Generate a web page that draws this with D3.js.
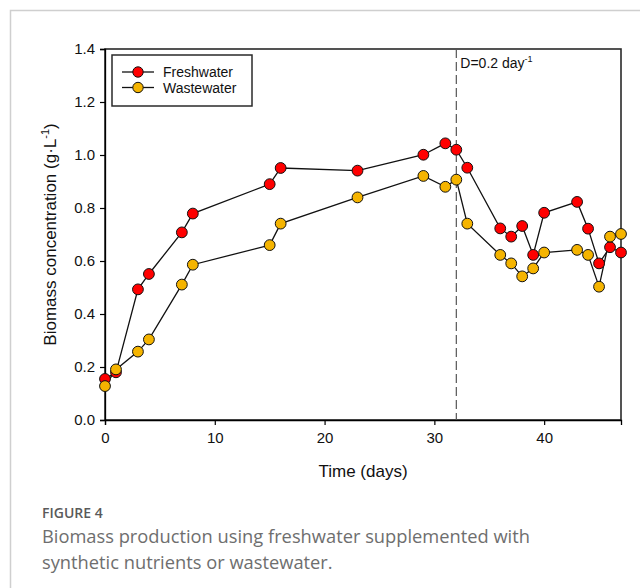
<!DOCTYPE html>
<html>
<head>
<meta charset="utf-8">
<script src="https://cdn.jsdelivr.net/npm/d3@7/dist/d3.min.js"></script>
<style>
  html, body { margin: 0; padding: 0; background: #fff; }
  svg { display: block; }
</style>
</head>
<body>
<svg id="chart" width="640" height="588"></svg>
<script>
// ---- data ----
const days = [0, 1, 3, 4, 7, 8, 15, 16, 23, 29, 31, 32, 33, 36, 37, 38, 39, 40, 43, 44, 45, 46, 47];
const freshwater = [0.155, 0.18, 0.493, 0.551, 0.708, 0.779, 0.89, 0.951, 0.941, 1.001, 1.044, 1.02, 0.952, 0.723, 0.692, 0.732, 0.623, 0.782, 0.823, 0.722, 0.591, 0.652, 0.632];
const wastewater = [0.128, 0.191, 0.258, 0.304, 0.511, 0.586, 0.66, 0.741, 0.84, 0.921, 0.88, 0.907, 0.741, 0.623, 0.591, 0.542, 0.572, 0.632, 0.642, 0.623, 0.503, 0.692, 0.702];
const xTicks = [0, 10, 20, 30, 40];
const yTicks = [0.0, 0.2, 0.4, 0.6, 0.8, 1.0, 1.2, 1.4];
const seriesNames = ["Freshwater", "Wastewater"];
const seriesColors = ["#ff0000", "#f5b400"];
const dilutionDay = 32;

(function () {
const svg = d3.select("#chart");
const pL = 105, pR = 621, pT = 49, pB = 420;

const x = d3.scaleLinear().domain([0, 47]).range([pL, pR]);
const y = d3.scaleLinear().domain([0, 1.4]).range([pB, pT]);

// outer frame of the figure
svg.append("path")
  .attr("d", `M10.5,588 L10.5,10.5 L640,10.5`)
  .attr("fill", "none").attr("stroke", "#cfcfcf").attr("stroke-width", 1.5);

// plot box
svg.append("rect")
  .attr("x", pL).attr("y", pT)
  .attr("width", pR - pL).attr("height", pB - pT)
  .attr("fill", "none").attr("stroke", "#2a2a2a").attr("stroke-width", 1.6);

// axes
const xAxis = d3.axisBottom(x).tickValues(xTicks).tickSize(5).tickPadding(4).tickFormat(d3.format("d"));
const yAxis = d3.axisLeft(y).tickValues(yTicks).tickSize(5).tickPadding(5).tickFormat(d3.format(".1f"));

const gx = svg.append("g").attr("transform", `translate(0,${pB})`).call(xAxis);
const gy = svg.append("g").attr("transform", `translate(${pL},0)`).call(yAxis);
[gx, gy].forEach(g => {
  g.select(".domain").attr("stroke", "#000").attr("stroke-width", 1.3);
  g.selectAll(".tick line").attr("stroke", "#000").attr("stroke-width", 1.2);
  g.selectAll(".tick text").attr("font-family", "Liberation Sans, Arial, sans-serif")
    .attr("font-size", 15).attr("fill", "#111");
});
gx.selectAll(".tick text").attr("dy", "0.95em");

// axis titles
svg.append("text")
  .attr("x", (pL + pR) / 2).attr("y", 477)
  .attr("text-anchor", "middle")
  .attr("font-family", "Liberation Sans, Arial, sans-serif").attr("font-size", 17).attr("fill", "#111")
  .text("Time (days)");

const yt = svg.append("text")
  .attr("transform", `translate(56,${(pT + pB) / 2}) rotate(-90)`)
  .attr("text-anchor", "middle")
  .attr("font-family", "Liberation Sans, Arial, sans-serif").attr("font-size", 17).attr("fill", "#111");
yt.append("tspan").text("Biomass concentration (g·L");
yt.append("tspan").attr("font-size", 11).attr("dy", -7).text("-1");
yt.append("tspan").attr("dy", 7).text(")");

// dashed line for dilution
svg.append("line")
  .attr("x1", x(dilutionDay)).attr("x2", x(dilutionDay))
  .attr("y1", pT).attr("y2", pB)
  .attr("stroke", "#555").attr("stroke-width", 1.2)
  .attr("stroke-dasharray", "9,4");

const ann = svg.append("text")
  .attr("x", x(dilutionDay) + 4).attr("y", 68)
  .attr("font-family", "Liberation Sans, Arial, sans-serif").attr("font-size", 14).attr("fill", "#111");
ann.append("tspan").text("D=0.2 day");
ann.append("tspan").attr("font-size", 9).attr("dy", -6).text("-1");

// series
const series = [freshwater, wastewater];
const line = d3.line().x((d, i) => x(days[i])).y(d => y(d));

series.forEach((vals) => {
  svg.append("path")
    .datum(vals)
    .attr("d", line)
    .attr("fill", "none").attr("stroke", "#111").attr("stroke-width", 1.3);
});
series.forEach((vals, s) => {
  svg.append("g").selectAll("circle")
    .data(vals)
    .join("circle")
    .attr("cx", (d, i) => x(days[i]))
    .attr("cy", d => y(d))
    .attr("r", 5.4)
    .attr("fill", seriesColors[s])
    .attr("stroke", "#111").attr("stroke-width", 1);
});

// legend
svg.append("rect")
  .attr("x", 112).attr("y", 55).attr("width", 140).attr("height", 51)
  .attr("fill", "#fff").attr("stroke", "#2a2a2a").attr("stroke-width", 1.5);
seriesNames.forEach((name, i) => {
  const ly = 72 + i * 15.5;
  svg.append("line").attr("x1", 122).attr("x2", 154).attr("y1", ly).attr("y2", ly)
    .attr("stroke", "#111").attr("stroke-width", 1.3);
  svg.append("circle").attr("cx", 138).attr("cy", ly).attr("r", 5.2)
    .attr("fill", seriesColors[i]).attr("stroke", "#111").attr("stroke-width", 1);
  svg.append("text").attr("x", 163).attr("y", ly + 5)
    .attr("font-family", "Liberation Sans, Arial, sans-serif").attr("font-size", 14).attr("fill", "#111")
    .text(name);
});

// caption
svg.append("text")
  .attr("x", 42).attr("y", 518)
  .attr("font-family", "Open Sans, sans-serif").attr("font-size", 14).attr("font-weight", 600)
  .attr("fill", "#5a5a5a").text("FIGURE 4");
svg.append("text")
  .attr("x", 42).attr("y", 543)
  .attr("font-family", "Open Sans, sans-serif").attr("font-size", 18.3)
  .attr("fill", "#6e6e6e").text("Biomass production using freshwater supplemented with");
svg.append("text")
  .attr("x", 42).attr("y", 569)
  .attr("font-family", "Open Sans, sans-serif").attr("font-size", 18.3)
  .attr("fill", "#6e6e6e").text("synthetic nutrients or wastewater.");
})();
</script>
</body>
</html>
